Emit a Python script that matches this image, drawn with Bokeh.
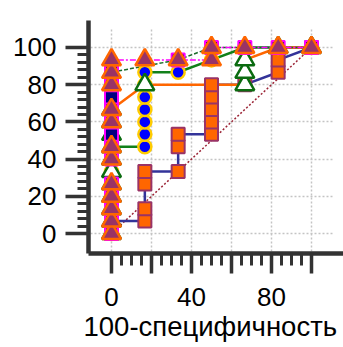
from bokeh.plotting import figure
from bokeh.models import FixedTicker, Range1d, Title
from bokeh.embed import file_html
from bokeh.resources import INLINE

# ---- axis ticks ----
X_TICKS = [0, 20, 40, 60, 80, 100]
X_MINOR = [5, 10, 15, 25, 30, 35, 45, 50, 55, 65, 70, 75, 85, 90, 95]
X_HIDDEN_LABELS = [20, 60, 100]
Y_TICKS = [0, 20, 40, 60, 80, 100]
Y_MINOR = [4, 8, 12, 16, 24, 28, 32, 36, 44, 48, 52, 56, 64, 68, 72, 76, 84, 88, 92, 96]
X_TITLE = "100-специфичность"

# ---- diagonal ----
diag_x = [0, 100]
diag_y = [0, 100]

# ---- series: orange squares (blue line) ----
osq_x = [0, 0, 16.67, 16.67, 16.67, 16.67, 33.33, 33.33, 33.33, 50, 50, 50, 50, 50, 66.67, 83.33, 83.33, 100]
osq_y = [0, 6.67, 6.67, 13.33, 26.67, 33.33, 33.33, 46.67, 53.33, 53.33, 60, 66.67, 73.33, 80, 80, 86.67, 93.33, 100]

# ---- series: blue circles (green line) ----
circ_x = [0, 0, 0, 0, 0, 0, 0, 0, 16.67, 16.67, 16.67, 16.67, 16.67, 16.67, 16.67, 33.33, 50, 66.67, 83.33, 100]
circ_y = [0, 6.67, 13.33, 20, 26.67, 33.33, 40, 46.67, 46.67, 53.33, 60, 66.67, 73.33, 80, 86.67, 86.67, 93.33, 100, 100, 100]

# ---- series: white triangles (orange line) ----
wtri_x = [0, 0, 0, 0, 0, 0, 0, 0, 0, 0, 0, 16.67, 66.67, 66.67, 66.67, 83.33, 100]
wtri_y = [0, 6.67, 13.33, 20, 26.67, 33.33, 40, 46.67, 53.33, 60, 66.67, 80, 80, 86.67, 93.33, 100, 100]

# ---- series: navy squares (green dashed line) ----
sq_x = [0, 0, 0, 0, 0, 0, 0, 0, 0, 0, 0, 0, 0, 33.33, 50, 66.67, 83.33, 100]
sq_y = [0, 6.67, 13.33, 20, 26.67, 40, 46.67, 53.33, 60, 66.67, 73.33, 80, 86.67, 93.33, 100, 100, 100, 100]

# ---- series: purple triangles (magenta dash-dot line) ----
tri_x = [0, 0, 0, 0, 0, 0, 0, 0, 0, 0, 0, 0, 16.67, 33.33, 50, 50, 66.67, 83.33, 100]
tri_y = [0, 6.67, 13.33, 20, 26.67, 40, 46.67, 60, 66.67, 80, 86.67, 93.33, 93.33, 93.33, 93.33, 100, 100, 100, 100]

FONT = "Liberation Sans"
AX = "#333333"

p = figure(width=343, height=347,
           x_range=Range1d(-11.5, 116), y_range=Range1d(-10.75, 114.5),
           output_backend="svg", toolbar_location=None,
           min_border_left=88, min_border_right=0, min_border_top=20, min_border_bottom=94)
p.outline_line_color = None
p.background_fill_color = "white"
p.border_fill_color = "white"

# grids
for g, ticks, cb in ((p.xgrid, X_TICKS, (-9.7, 110.2)), (p.ygrid, Y_TICKS, (-10.5, 111))):
    g.ticker = FixedTicker(ticks=ticks)
    g.grid_line_color = "#C4C4C4"
    g.grid_line_width = 1.5
    g.grid_line_dash = "2 2"
    g.cross_bounds = cb

# axes
p.xaxis.ticker = FixedTicker(ticks=X_TICKS, minor_ticks=X_MINOR)
p.xaxis.major_label_overrides = {t: "" for t in X_HIDDEN_LABELS}
p.yaxis.ticker = FixedTicker(ticks=Y_TICKS, minor_ticks=Y_MINOR)
for ax in (p.xaxis[0], p.yaxis[0]):
    ax.axis_line_color = AX
    ax.axis_line_width = 4.5
    ax.major_tick_line_color = AX
    ax.major_tick_line_width = 3.5
    ax.minor_tick_line_color = AX
    ax.minor_tick_line_width = 3
    ax.major_tick_in = 0
    ax.minor_tick_in = 0
    ax.major_label_text_font = FONT
    ax.major_label_text_font_size = "26px"
    ax.major_label_text_color = "black"
p.xaxis.major_tick_out = 20
p.xaxis.minor_tick_out = 12
p.xaxis.major_label_standoff = 14
p.yaxis.major_tick_out = 23
p.yaxis.minor_tick_out = 11
p.yaxis.major_label_standoff = 9

# x-axis title below the tick labels
p.add_layout(Title(text=X_TITLE, align="left", offset=-5, standoff=0,
                   text_font=FONT, text_font_size="27.5px", text_font_style="normal",
                   text_color="black"), "below")

# lines
p.line(diag_x, diag_y, line_color="#9B2335", line_width=1.5, line_dash="2 2")
p.line(osq_x, osq_y, line_color="#333399", line_width=2.5)
p.line(circ_x, circ_y, line_color="#11801A", line_width=2.5)
p.line(wtri_x, wtri_y, line_color="#FF6600", line_width=2.5)
p.line(sq_x, sq_y, line_color="#1B6B2A", line_width=1.5, line_dash="4 2")
p.line(tri_x, tri_y, line_color="#FF00FF", line_width=1.5, line_dash="6 2 2 2")

# markers
p.scatter(osq_x, osq_y, marker="square", size=13, fill_color="#FF6600", line_color="#993366", line_width=2)
p.scatter(circ_x, circ_y, marker="circle", size=13, fill_color="#0000FF", line_color="#FFCC00", line_width=2.5)
p.scatter(wtri_x, wtri_y, marker="triangle", size=19, fill_color="white", line_color="#0B6B10", line_width=2.5)
p.scatter(sq_x, sq_y, marker="square", size=13, fill_color="#000080", line_color="#FF00FF", line_width=2)
p.scatter(tri_x, tri_y, marker="triangle", size=19, fill_color="#993366", line_color="#FF6600", line_width=2.5)

open("out.html", "w").write(file_html(p, INLINE))
